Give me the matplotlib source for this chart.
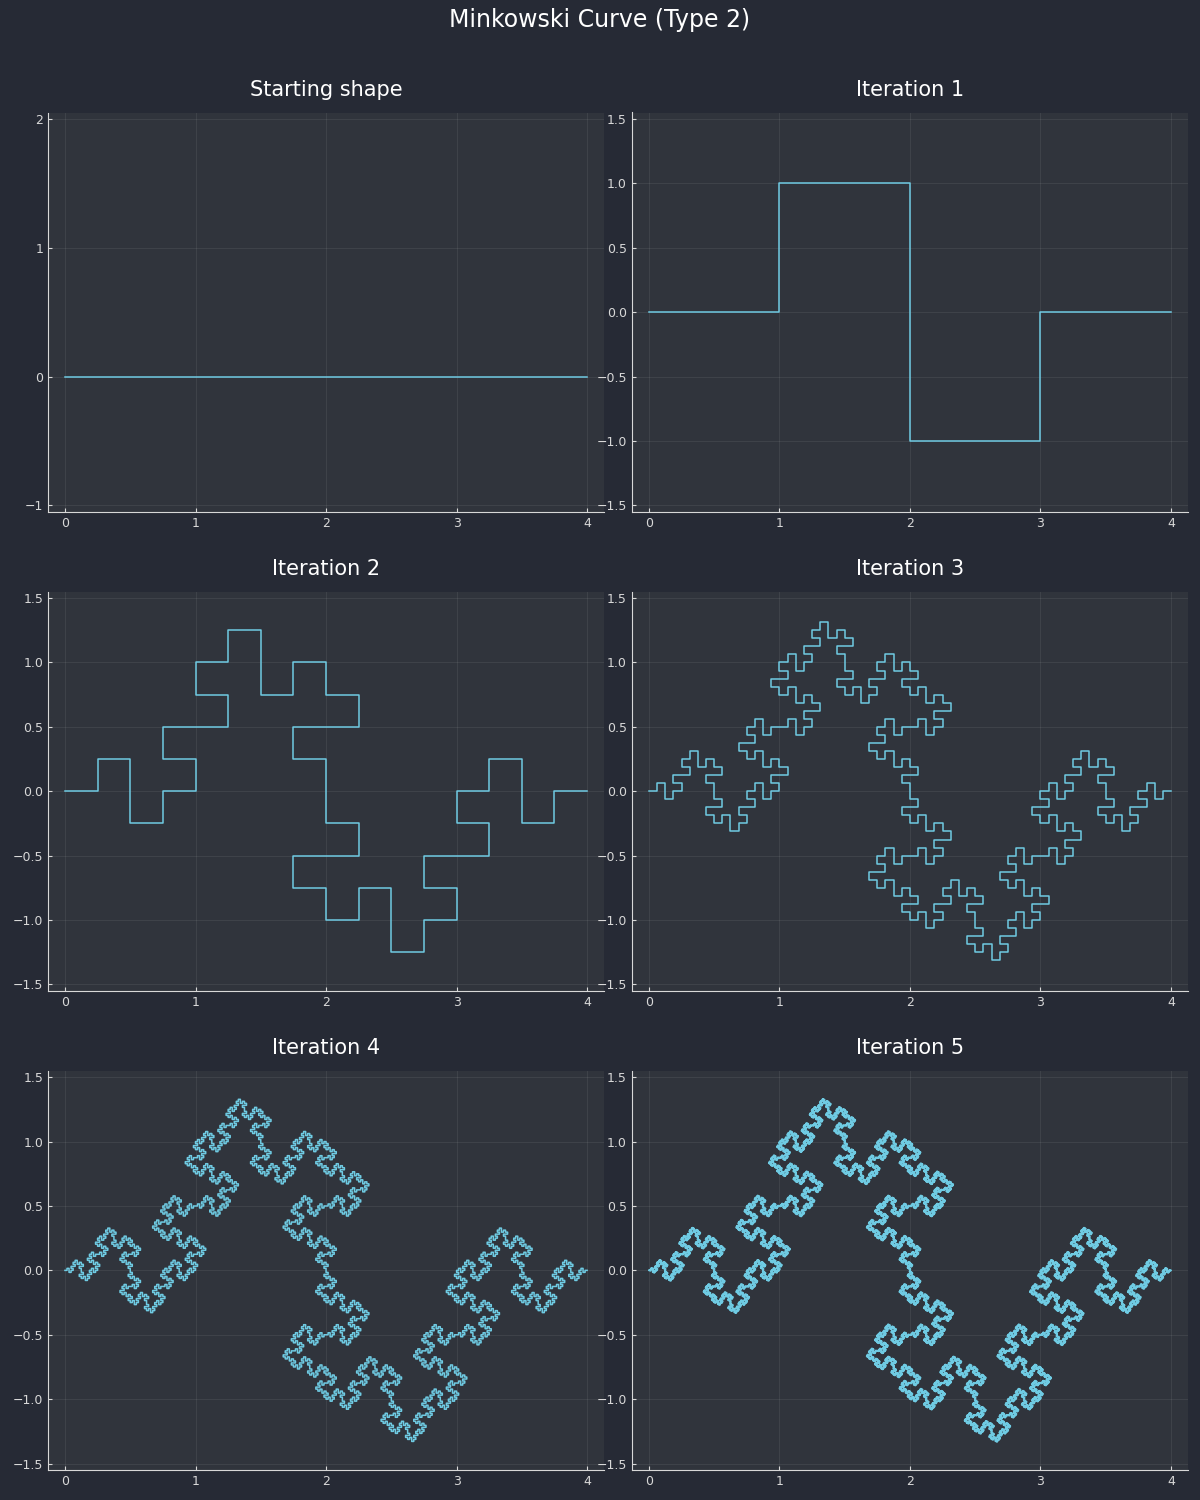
import numpy as np
import matplotlib
matplotlib.use("Agg")
import matplotlib.pyplot as plt

# Generator for Minkowski curve (type 2): sequence of unit steps (dx, dy) relative to a segment
# direction, in quarter-lengths: forward, left, forward, right, right, forward, left, forward
gen_steps = [(1, 0), (0, 1), (1, 0), (0, -1), (0, -1), (1, 0), (0, 1), (1, 0)]
gen_scale = 4
start_pts = [(0.0, 0.0), (4.0, 0.0)]
titles = ["Starting shape", "Iteration 1", "Iteration 2", "Iteration 3", "Iteration 4", "Iteration 5"]
ylims = [(-1.05, 2.05)] + [(-1.55, 1.55)] * 5
yticks_list = [[-1, 0, 1, 2]] + [[-1.5, -1.0, -0.5, 0.0, 0.5, 1.0, 1.5]] * 5
xticks = [0, 1, 2, 3, 4]

def iterate(pts):
    pts = np.asarray(pts)
    out = [pts[0]]
    for a, b in zip(pts[:-1], pts[1:]):
        d = (b - a) / gen_scale
        n = np.array([-d[1], d[0]])
        p = a.copy()
        for fx, fy in gen_steps:
            p = p + fx * d + fy * n
            out.append(p)
    return np.array(out)

curves = [np.array(start_pts)]
for i in range(5):
    curves.append(iterate(curves[-1]))

bg = "#262a35"
axbg = "#30343c"
fg = "#d8d8d8"
lc = "#6fcbe3"

fig, axes = plt.subplots(3, 2, figsize=(12, 15), dpi=100, facecolor=bg)
fig.suptitle("Minkowski Curve (Type 2)", color="white", fontsize=17, y=0.995)
for ax, c, t, yl, yt in zip(axes.flat, curves, titles, ylims, yticks_list):
    ax.set_facecolor(axbg)
    ax.plot(c[:, 0], c[:, 1], color=lc, lw=1.1)
    ax.set_xlim(-0.13, 4.13)
    ax.set_ylim(*yl)
    ax.set_xticks(xticks)
    ax.set_yticks(yt)
    if yt[0] != -1:
        ax.set_yticklabels([f"{v:.1f}".replace("-", "\u2212") for v in yt])
    ax.set_title(t, color="white", fontsize=15, pad=12)
    ax.grid(True, color="#ffffff", alpha=0.07, lw=0.8)
    for s in ["top", "right"]:
        ax.spines[s].set_visible(False)
    for s in ["left", "bottom"]:
        ax.spines[s].set_color(fg)
    ax.tick_params(colors=fg, labelsize=9, direction="in", length=3)
fig.subplots_adjust(left=0.04, right=0.99, bottom=0.02, top=0.925, hspace=0.2, wspace=0.05)
fig.savefig("out.png", facecolor=bg)
